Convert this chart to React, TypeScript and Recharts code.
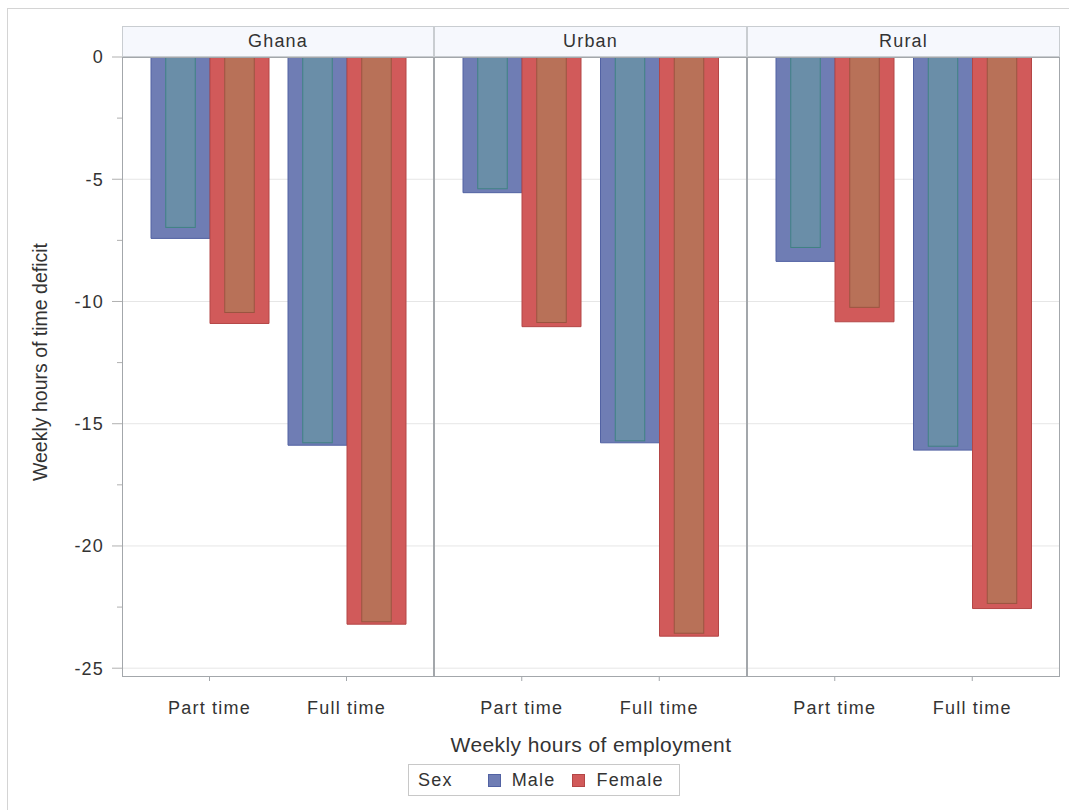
import React from 'react';
import { BarChart, Bar, XAxis, YAxis, CartesianGrid } from 'recharts';

const panels = ['Ghana', 'Urban', 'Rural'];
const categories = ['Part time', 'Full time'];
// values per panel: [Part time, Full time]
const maleOuter = [[-7.42, -15.88], [-5.55, -15.78], [-8.36, -16.08]];
const maleInner = [[-6.97, -15.78], [-5.39, -15.7], [-7.79, -15.92]];
const femaleOuter = [[-10.9, -23.2], [-11.03, -23.69], [-10.83, -22.56]];
const femaleInner = [[-10.45, -23.1], [-10.86, -23.57], [-10.24, -22.35]];
const yMajorTicks = [0, -5, -10, -15, -20, -25];
const yMinorTicks = [-2.5, -7.5, -12.5, -17.5, -22.5];
const gridValues = [-5, -10, -15, -20, -25];
const legendItems = ['Male', 'Female'];

const FONT = "'Liberation Sans', Arial, sans-serif";
const TEXT = '#333333';
const FRAME = '#A3A7AB';
const COLORS = {
  maleFill: '#6F7DB4',
  maleStroke: '#5262A3',
  maleInnerFill: '#6A8EA8',
  maleInnerStroke: '#3F8282',
  femaleFill: '#D15A5A',
  femaleStroke: '#B44646',
  femaleInnerFill: '#B87158',
  femaleInnerStroke: '#9A5540',
};

const PLOT_TOP = 57;
const PLOT_BOTTOM = 677;
const PANEL_X = [122, 434, 747, 1060];
const CHART_H = 810;
const X_AXIS_H = 40;
const Y_DOMAIN: [number, number] = [-25.36, 0];

const buildData = (p: number) =>
  categories.map((c, i) => ({
    category: c,
    maleOuter: maleOuter[p][i],
    maleInner: maleInner[p][i],
    femaleOuter: femaleOuter[p][i],
    femaleInner: femaleInner[p][i],
  }));

const makeInnerShape = (fill: string, stroke: string) => (props: any) => {
  const { x, y, width, height } = props;
  if (x == null || y == null) return null;
  const top = Math.min(y, y + height);
  const h = Math.abs(height);
  return (
    <rect
      x={x + width / 4}
      y={top}
      width={width / 2}
      height={h}
      fill={fill}
      stroke={stroke}
      strokeWidth={1}
    />
  );
};

const YTick = (props: any) => {
  const { x, y, payload } = props;
  const axisX = x + 18;
  const v = payload.value;
  const major = yMajorTicks.includes(v);
  return (
    <g>
      <line x1={axisX - (major ? 10 : 5)} x2={axisX} y1={y} y2={y} stroke="#B0B0B0" strokeWidth={1} />
      {major && (
        <text
          x={x}
          y={y}
          dy="0.36em"
          textAnchor="end"
          fill={TEXT}
          fontSize={18}
          fontFamily={FONT}
          letterSpacing={1.2}
        >
          {v}
        </text>
      )}
    </g>
  );
};

const Panel = ({ p }: { p: number }) => {
  const first = p === 0;
  const left = first ? 0 : PANEL_X[p];
  const width = first ? PANEL_X[1] : PANEL_X[p + 1] - PANEL_X[p];
  const data = buildData(p);
  return (
    <div style={{ position: 'absolute', left, top: 0 }}>
      <BarChart
        width={width}
        height={CHART_H}
        data={data}
        margin={{ top: PLOT_TOP, right: 0, left: 0, bottom: CHART_H - PLOT_BOTTOM - X_AXIS_H }}
        barGap={0}
        barSize={59}
      >
        <CartesianGrid
          vertical={false}
          horizontalValues={gridValues}
          stroke="#E6E6E6"
          xAxisId="outer"
        />
        <XAxis
          xAxisId="outer"
          dataKey="category"
          height={X_AXIS_H}
          padding={{ left: 19, right: 19 }}
          axisLine={false}
          tickSize={4}
          tickMargin={20}
          interval={0}
          tickLine={{ stroke: FRAME }}
          tick={{ fill: TEXT, fontSize: 18, fontFamily: FONT, letterSpacing: 1.2 }}
        />
        <XAxis
          xAxisId="inner"
          dataKey="category"
          hide
          height={0}
          orientation="top"
          padding={{ left: 19, right: 19 }}
        />
        <YAxis
          hide={!first}
          width={first ? 122 : 0}
          domain={Y_DOMAIN}
          allowDataOverflow
          ticks={[...yMajorTicks, ...yMinorTicks]}
          interval={0}
          tickSize={10}
          tickMargin={8}
          tickLine={false}
          axisLine={false}
          tick={<YTick />}
        />
        <Bar
          xAxisId="outer"
          dataKey="maleOuter"
          fill={COLORS.maleFill}
          stroke={COLORS.maleStroke}
          strokeWidth={1}
          isAnimationActive={false}
        />
        <Bar
          xAxisId="outer"
          dataKey="femaleOuter"
          fill={COLORS.femaleFill}
          stroke={COLORS.femaleStroke}
          strokeWidth={1}
          isAnimationActive={false}
        />
        <Bar
          xAxisId="inner"
          dataKey="maleInner"
          shape={makeInnerShape(COLORS.maleInnerFill, COLORS.maleInnerStroke)}
          isAnimationActive={false}
        />
        <Bar
          xAxisId="inner"
          dataKey="femaleInner"
          shape={makeInnerShape(COLORS.femaleInnerFill, COLORS.femaleInnerStroke)}
          isAnimationActive={false}
        />
      </BarChart>
    </div>
  );
};

export default function App() {
  return (
    <div
      style={{
        position: 'fixed',
        left: 0,
        top: 0,
        width: 1069,
        height: 810,
        background: '#fff',
        overflow: 'hidden',
        fontFamily: FONT,
        color: TEXT,
      }}
    >
      {/* outer frame */}
      <div
        style={{
          position: 'absolute',
          left: 7,
          top: 8,
          width: 1080,
          height: 820,
          borderLeft: '1px solid #D4D4D4',
          borderTop: '1px solid #D4D4D4',
        }}
      />
      {panels.map((_, p) => (
        <Panel key={p} p={p} />
      ))}
      {/* header strips */}
      {panels.map((name, p) => (
        <div
          key={name}
          style={{
            position: 'absolute',
            left: PANEL_X[p],
            top: 26,
            width: PANEL_X[p + 1] - PANEL_X[p],
            height: 31,
            boxSizing: 'border-box',
            background: '#F6F8FD',
            border: '1px solid #C9CDD1',
            textAlign: 'center',
            lineHeight: '29px',
            fontSize: 18,
            letterSpacing: 1.2,
          }}
        >
          {name}
        </div>
      ))}
      {/* plot frame */}
      <div
        style={{
          position: 'absolute',
          left: PANEL_X[0],
          top: PLOT_TOP,
          width: PANEL_X[3] - PANEL_X[0],
          height: PLOT_BOTTOM - PLOT_TOP,
          boxSizing: 'border-box',
          border: `1px solid ${FRAME}`,
          pointerEvents: 'none',
        }}
      />
      {[1, 2].map((i) => (
        <div
          key={i}
          style={{
            position: 'absolute',
            left: PANEL_X[i] - 1,
            top: PLOT_TOP,
            width: 2,
            height: PLOT_BOTTOM - PLOT_TOP,
            background: FRAME,
          }}
        />
      ))}
      {/* axis titles */}
      <div
        style={{
          position: 'absolute',
          left: PANEL_X[0],
          width: PANEL_X[3] - PANEL_X[0],
          top: 734,
          height: 22,
          lineHeight: '22px',
          textAlign: 'center',
          fontSize: 21,
          letterSpacing: 0.4,
          whiteSpace: 'nowrap',
        }}
      >
        Weekly hours of employment
      </div>
      <div
        style={{
          position: 'absolute',
          left: 40 - 200,
          top: 362 - 11,
          width: 400,
          height: 22,
          lineHeight: '22px',
          textAlign: 'center',
          fontSize: 19.5,
          whiteSpace: 'nowrap',
          transform: 'rotate(-90deg)',
        }}
      >
        Weekly hours of time deficit
      </div>
      {/* legend */}
      <div
        style={{
          position: 'absolute',
          left: 408,
          top: 764,
          width: 272,
          height: 32,
          boxSizing: 'border-box',
          border: '1px solid #C8C8C8',
          display: 'flex',
          alignItems: 'center',
          fontSize: 18,
          letterSpacing: 1.2,
          paddingLeft: 9,
          whiteSpace: 'nowrap',
        }}
      >
        <span style={{ marginRight: 35 }}>Sex</span>
        {legendItems.map((item, i) => (
          <React.Fragment key={item}>
            <span
              style={{
                display: 'inline-block',
                width: 13,
                height: 13,
                boxSizing: 'border-box',
                background: i === 0 ? COLORS.maleFill : COLORS.femaleFill,
                border: `1px solid ${i === 0 ? COLORS.maleStroke : COLORS.femaleStroke}`,
                marginRight: 11,
              }}
            />
            <span style={{ marginRight: i === 0 ? 17 : 0 }}>{item}</span>
          </React.Fragment>
        ))}
      </div>
    </div>
  );
}
